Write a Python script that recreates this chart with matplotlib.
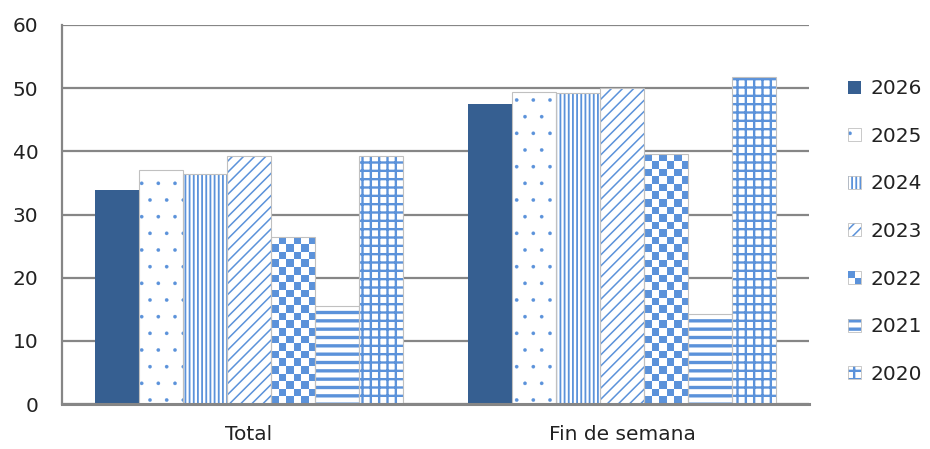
import numpy as np
import matplotlib
matplotlib.use("Agg")
import matplotlib.pyplot as plt
from matplotlib.patches import Rectangle
from matplotlib.legend_handler import HandlerBase

# ---- data ----
categories = ["Total", "Fin de semana"]
series_labels = ["2026", "2025", "2024", "2023", "2022", "2021", "2020"]
v2026 = [33.9, 47.5]
v2025 = [37.1, 49.4]
v2024 = [36.4, 49.2]
v2023 = [39.2, 50.0]
v2022 = [26.5, 39.5]
v2021 = [15.5, 14.3]
v2020 = [39.3, 51.7]
series_values = [v2026, v2025, v2024, v2023, v2022, v2021, v2020]
yticks = [0, 10, 20, 30, 40, 50, 60]

# ---- styles ----
DARK = "#365F91"
BLUE = "#5B92DA"
GRID = "#868686"
OUTLINE = "#C0C0C0"
TXT = "#222222"
# (hatch, hatch linewidth)  None = solid, "checker" = checkerboard
styles = [None, (".", 0.2), ("||||", 1.3), ("///", 1.1), "checker", ("--", 2.4), ("++", 1.7)]

plt.rcParams["font.family"] = ["DejaVu Sans"]

fig = plt.figure(figsize=(9.3, 4.49), dpi=100)
ax = fig.add_axes([62 / 930, 45 / 449, 747 / 930, 379 / 449])

x = np.arange(len(categories))
n = len(series_labels)
bw = 0.8235 / n
checker_arr = (np.add.outer(np.arange(50), np.arange(100)) % 2).astype(float)

for i, (lab, vals, st) in enumerate(zip(series_labels, series_values, styles)):
    pos = x - 0.8235 / 2 + bw * (i + 0.5)
    if st is None:
        ax.bar(pos, vals, width=bw, color=DARK, edgecolor=DARK, linewidth=0, zorder=3)
    elif st == "checker":
        bars = ax.bar(pos, vals, width=bw, color="white", linewidth=0, zorder=3)
        for b in bars:
            im = ax.imshow(checker_arr, cmap=matplotlib.colors.ListedColormap(["white", BLUE]),
                           extent=(0, 1, 0, 1), transform=ax.transAxes, aspect="auto",
                           interpolation="nearest", zorder=3.5)
            im.set_clip_path(b)
        ax.bar(pos, vals, width=bw, fill=False, edgecolor=OUTLINE, linewidth=0.8, zorder=4)
    else:
        h, hlw = st
        with plt.rc_context({"hatch.linewidth": hlw}):
            bars = ax.bar(pos, vals, width=bw, facecolor="white", edgecolor=BLUE,
                          hatch=h, linewidth=0, zorder=3)
        for b in bars:
            if hasattr(b, "set_hatch_linewidth"):
                b.set_hatch_linewidth(hlw)
        ax.bar(pos, vals, width=bw, fill=False, edgecolor=OUTLINE, linewidth=0.8, zorder=4)

ax.set_xlim(-0.5, len(categories) - 0.5)
ax.set_ylim(0, 60)
ax.set_yticks(yticks)
ax.set_yticklabels([str(t) for t in yticks])
ax.set_xticks(x)
ax.set_xticklabels(categories)
ax.tick_params(axis="both", length=0, labelsize=14.5, labelcolor=TXT)
ax.tick_params(axis="y", pad=17)
ax.tick_params(axis="x", pad=15)
ax.yaxis.grid(True, color=GRID, linewidth=1.6, zorder=1)
ax.set_axisbelow(True)
for s in ["top", "right"]:
    ax.spines[s].set_visible(False)
ax.spines["left"].set_color(GRID)
ax.spines["left"].set_linewidth(1.6)
ax.spines["bottom"].set_color(GRID)
ax.spines["bottom"].set_linewidth(2.2)
ax.spines["bottom"].set_zorder(5)


# ---- legend ----
class StyleHandler(HandlerBase):
    def __init__(self, st):
        super().__init__()
        self.st = st

    def create_artists(self, legend, orig_handle, xd, yd, w, h, fontsize, trans):
        s = min(w, h)
        x0 = -xd
        y0 = -yd + (h - s) / 2
        arts = []
        st = self.st
        if st is None:
            arts.append(Rectangle((x0, y0), s, s, facecolor=DARK, edgecolor="none", transform=trans))
        elif st == "checker":
            arts.append(Rectangle((x0, y0), s, s, facecolor="white", edgecolor=OUTLINE, lw=0.6, transform=trans))
            arts.append(Rectangle((x0, y0 + s / 2), s / 2, s / 2, facecolor=BLUE, edgecolor="none", transform=trans))
            arts.append(Rectangle((x0 + s / 2, y0), s / 2, s / 2, facecolor=BLUE, edgecolor="none", transform=trans))
        else:
            hch, hlw = st
            with plt.rc_context({"hatch.linewidth": hlw}):
                r = Rectangle((x0, y0), s, s, facecolor="white", edgecolor=BLUE, hatch=hch, lw=0, transform=trans)
            if hasattr(r, "set_hatch_linewidth"):
                r.set_hatch_linewidth(hlw)
            arts.append(r)
            arts.append(Rectangle((x0, y0), s, s, fill=False, edgecolor=OUTLINE, lw=0.6, transform=trans))
        return arts


handles = [Rectangle((0, 0), 1, 1) for _ in series_labels]
handler_map = {hd: StyleHandler(st) for hd, st in zip(handles, styles)}
leg = fig.legend(handles, series_labels, handler_map=handler_map,
                 loc="center left", bbox_to_anchor=(848 / 930, 1 - 231.5 / 449),
                 frameon=False, fontsize=14.5, labelcolor=TXT,
                 handlelength=0.65, handleheight=0.65, handletextpad=0.45,
                 labelspacing=1.42, borderpad=0, borderaxespad=0)

fig.savefig("out.png", dpi=100)
